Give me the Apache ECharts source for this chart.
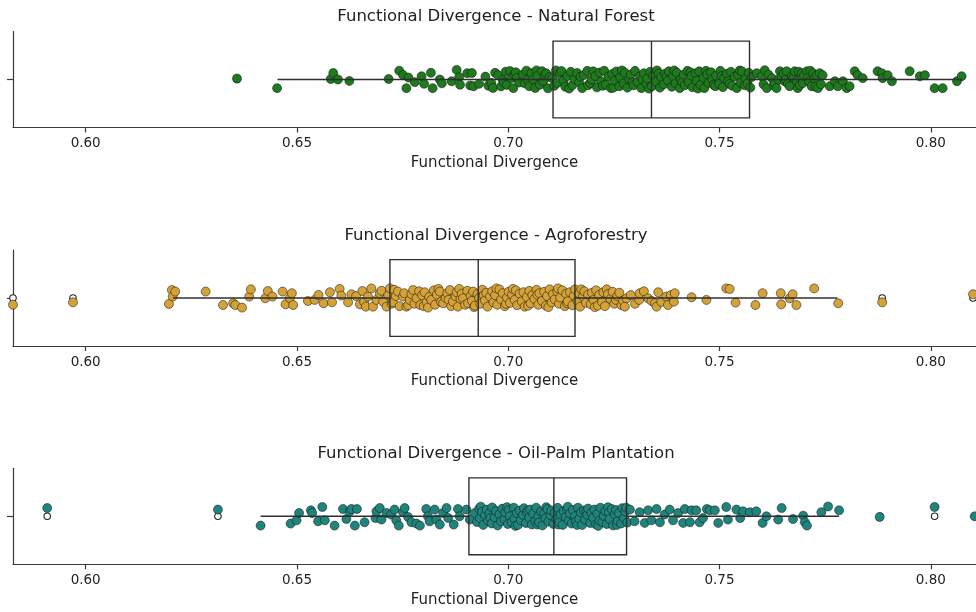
<!DOCTYPE html>
<html>
<head>
<meta charset="utf-8">
<script src="https://cdn.jsdelivr.net/npm/echarts@6/dist/echarts.min.js"></script>
<style>html,body{margin:0;padding:0;background:#fff}#chart{width:976px;height:612px}</style>
</head>
<body>
<div id="chart"></div>
<script>
// ---------------- data ----------------
const xTickValues = [0.60, 0.65, 0.70, 0.75, 0.80];
const axisTitle = 'Functional Divergence';
const panelTitles = [
  'Functional Divergence - Natural Forest',
  'Functional Divergence - Agroforestry',
  'Functional Divergence - Oil-Palm Plantation'
];

// box stats: [whisker low, Q1, median, Q3, whisker high]
const forestBox = [0.6454, 0.7106, 0.7339, 0.7571, 0.8075];
const agroBox   = [0.6207, 0.6720, 0.6929, 0.7158, 0.7779];
const palmBox   = [0.6414, 0.6907, 0.7108, 0.7280, 0.7783];

const forestOutliers = [0.6358];
const agroOutliers   = [0.5828, 0.5970, 0.7885, 0.8100];
const palmOutliers   = [0.5909, 0.6313, 0.7880, 0.8009, 0.8104];

// strip points: [functional divergence, jitter]
const forestPoints = [
[0.6358,0.01],[0.6453,-0.09],[0.6580,0.005],[0.6586,0.068],[0.6597,0.0],[0.6624,-0.015],[0.6717,0.005],[0.6742,0.092],[0.6751,0.048],[0.6759,-0.09],[0.6764,0.02],[0.6779,-0.028],[0.6795,0.034],[0.6801,-0.045],[0.6817,0.07],[0.6821,-0.09],[0.6838,0.0],[0.6843,-0.04],[0.6866,-0.018],[0.6878,0.1],[0.6884,0.025],[0.6886,-0.055],[0.6903,0.066],[0.6910,-0.062],[0.6914,0.068],[0.6918,-0.07],[0.6931,-0.045],[0.6946,0.03],[0.6953,-0.065],[0.6960,-0.035],[0.6964,-0.088],[0.6969,0.07],
[0.6976,0.045],[0.6983,-0.072],[0.6987,-0.004],[0.6990,-0.03],[0.6994,0.082],[0.6997,-0.056],[0.7004,0.088],[0.7007,0.012],[0.7012,-0.09],[0.7015,0.05],[0.7018,0.075],[0.7021,0.016],[0.7026,-0.032],[0.7035,0.052],[0.7039,-0.04],[0.7043,0.092],[0.7046,-0.005],[0.7050,-0.07],[0.7055,0.066],[0.7059,0.002],[0.7064,-0.088],[0.7067,0.095],[0.7069,0.036],[0.7075,-0.055],[0.7080,0.086],[0.7083,-0.018],[0.7087,0.045],[0.7090,0.064],[0.7094,-0.092],[0.7098,0.028],[0.7104,0.014],[0.7109,-0.066],[0.7113,0.095],[0.7116,-0.036],[0.7122,0.062],[0.7126,0.088],[0.7131,-0.01],[0.7135,-0.075],[0.7140,0.036],[0.7144,-0.095],[0.7148,0.08],[0.7152,-0.058],[0.7157,0.008],[0.7163,0.068],[0.7168,-0.03],[0.7171,0.03],[0.7175,-0.09],[0.7179,0.046],[0.7187,0.09],[0.7189,-0.06],[0.7194,-0.036],[0.7198,0.0],[0.7201,0.085],[0.7206,0.036],[0.7210,-0.082],[0.7216,0.072],[0.7220,-0.022],[0.7224,-0.065],[0.7227,0.092],[0.7231,-0.054],[0.7237,0.03],[0.7243,-0.09],[0.7246,0.058],[0.7249,-0.085],[0.7252,-0.012],[0.7256,0.084],[0.7263,-0.07],[0.7265,0.022],[0.7269,0.095],[0.7273,-0.042],[0.7276,0.07],[0.7282,-0.085],[0.7287,0.002],[0.7290,0.052],[0.7294,-0.03],[0.7297,-0.06],[0.7300,0.09],[0.7306,-0.025],[0.7312,0.035],[0.7315,-0.09],[0.7318,0.0],[0.7321,0.065],[0.7327,-0.046],[0.7329,0.012],[0.7333,-0.095],[0.7336,0.08],[0.7340,-0.07],[0.7343,0.04],[0.7350,-0.02],[0.7352,0.095],[0.7356,0.06],[0.7359,-0.085],[0.7362,0.026],[0.7368,-0.05],[0.7371,0.06],[0.7375,0.03],[0.7378,-0.01],[0.7380,0.085],[0.7387,-0.076],[0.7390,0.032],[0.7393,0.095],[0.7396,-0.04],[0.7399,0.07],[0.7406,-0.09],[0.7408,0.0],[0.7412,-0.025],[0.7415,0.05],[0.7418,-0.06],[0.7424,0.09],[0.7427,-0.03],[0.7431,0.075],[0.7434,0.04],[0.7436,-0.08],[0.7443,0.065],[0.7446,-0.015],[0.7449,-0.095],[0.7452,0.085],[0.7455,-0.055],[0.7462,0.02],[0.7464,-0.09],[0.7468,0.09],[0.7471,0.055],[0.7474,-0.035],[0.7480,0.075],[0.7483,0.005],[0.7486,-0.055],[0.7490,-0.07],[0.7492,0.04],[0.7499,-0.045],[0.7502,0.09],[0.7505,0.035],[0.7508,-0.08],[0.7511,0.015],[0.7518,0.06],[0.7520,-0.02],[0.7524,-0.045],[0.7527,0.08],[0.7530,-0.065],[0.7536,0.03],[0.7541,-0.09],[0.7544,0.05],[0.7548,0.095],[0.7550,-0.035],[0.7553,0.085],[0.7560,-0.06],[0.7562,0.01],[0.7566,-0.04],[0.7569,0.07],[0.7573,-0.085],[0.7576,0.025],
[0.7588,0.066],[0.7600,0.034],[0.7604,-0.05],[0.7607,0.097],[0.7612,-0.09],[0.7616,0.05],[0.7624,0.014],[0.7628,-0.06],[0.7631,-0.038],[0.7635,-0.09],[0.7640,0.0],[0.7643,0.086],[0.7647,0.034],[0.7652,0.065],[0.7654,-0.018],[0.7657,0.0],[0.7659,0.086],[0.7662,-0.045],[0.7666,-0.07],[0.7671,0.034],[0.7675,0.02],[0.7678,0.086],[0.7683,-0.018],[0.7685,-0.09],[0.7688,0.08],[0.7690,-0.06],[0.7695,0.066],[0.7697,-0.038],[0.7700,0.04],[0.7707,0.086],[0.7709,0.014],[0.7712,-0.02],[0.7715,0.09],[0.7718,-0.07],[0.7721,0.066],[0.7725,0.01],[0.7727,-0.075],[0.7730,0.045],[0.7733,-0.09],[0.7737,0.066],[0.7740,-0.05],[0.7744,0.045],[0.7761,-0.07],[0.7773,-0.018],[0.7780,-0.07],[0.7792,-0.018],[0.7801,-0.09],[0.7808,-0.07],[0.7820,0.086],[0.7827,0.045],[0.7839,0.014],[0.7874,0.086],[0.7884,0.066],[0.7886,0.014],[0.7898,0.045],[0.7908,-0.018],[0.7950,0.086],[0.7974,0.034],[0.7986,0.045],[0.8009,-0.09],[0.8028,-0.09],[0.8062,-0.018],[0.8073,0.034]
];

const agroPoints = [
[0.5828,-0.07],[0.5970,-0.045],[0.6197,-0.062],[0.6204,0.083],[0.6206,0.015],[0.6212,0.067],[0.6284,0.067],[0.6325,-0.073],[0.6349,-0.055],[0.6354,-0.073],[0.6370,-0.1],[0.6387,0.015],[0.6391,0.09],[0.6425,-0.003],[0.6431,0.073],[0.6442,0.015],[0.6466,0.067],[0.6473,-0.066],[0.6483,-0.003],[0.6488,0.05],[0.6491,-0.073],[0.6526,-0.031],[0.6542,-0.02],[0.6551,0.031],[0.6563,-0.055],[0.6578,0.06],[0.6583,-0.045],[0.6601,0.094],[0.6605,0.025],[0.6621,-0.045],[0.6629,0.039],[0.6640,0.02],[0.6649,-0.066],[0.6655,0.073],[0.6659,-0.04],[0.6663,-0.09],[0.6668,0.015],[0.6676,0.1],[0.6680,-0.09],[0.6688,-0.02],[0.6696,0.05],[0.6700,0.075],[0.6704,-0.038],[0.6712,-0.09],[0.6716,0.03],
[0.6720,0.1],[0.6724,-0.06],[0.6727,-0.045],[0.6730,0.085],[0.6734,0.02],[0.6739,0.067],[0.6743,-0.085],[0.6751,0.015],[0.6754,0.05],[0.6759,-0.09],[0.6763,-0.075],[0.6767,-0.02],[0.6771,0.04],[0.6775,0.083],[0.6778,-0.06],[0.6783,-0.003],[0.6789,0.07],[0.6792,-0.073],[0.6796,0.03],[0.6800,-0.085],[0.6802,0.06],[0.6807,-0.045],[0.6810,-0.1],[0.6813,0.01],[0.6818,-0.02],[0.6824,0.08],[0.6827,-0.07],[0.6831,0.035],[0.6835,0.095],[0.6838,0.067],[0.6841,-0.04],[0.6846,-0.055],[0.6852,0.0],[0.6856,0.05],[0.6859,-0.02],[0.6862,0.083],[0.6865,-0.085],[0.6869,-0.038],[0.6875,0.02],[0.6878,0.06],[0.6881,-0.09],[0.6884,0.095],[0.6887,-0.01],[0.6890,0.045],[0.6893,-0.003],[0.6898,-0.07],[0.6903,0.075],[0.6905,-0.055],[0.6911,0.025],[0.6914,-0.03],[0.6917,0.067],[0.6919,-0.095],[0.6921,-0.08],[0.6927,0.04],[0.6931,0.0],[0.6934,-0.06],[0.6939,0.085],[0.6942,0.03],[0.6945,-0.025],[0.6948,0.055],[0.6951,-0.09],[0.6957,0.015],[0.6962,0.07],[0.6965,-0.045],[0.6969,0.03],[0.6972,0.1],[0.6974,-0.07],[0.6979,0.09],[0.6983,-0.015],[0.6987,0.05],[0.6992,-0.085],[0.6995,-0.06],[0.6997,0.005],[0.7001,0.065],[0.7004,-0.05],[0.7009,0.035],[0.7011,0.095],[0.7015,-0.02],[0.7018,0.08],[0.7021,-0.075],[0.7027,0.045],[0.7032,-0.035],[0.7036,0.06],[0.7039,-0.09],[0.7044,0.01],[0.7047,-0.08],[0.7050,0.075],[0.7053,-0.055],[0.7057,0.03],[0.7062,-0.01],[0.7067,0.085],[0.7069,0.035],[0.7071,-0.07],[0.7074,0.05],[0.7080,-0.03],[0.7085,0.065],[0.7089,-0.08],[0.7092,0.02],[0.7095,-0.095],[0.7098,0.09],[0.7103,-0.045],[0.7106,0.04],[0.7110,-0.015],[0.7116,0.07],[0.7118,0.1],[0.7120,-0.06],[0.7123,0.005],[0.7128,0.08],[0.7134,-0.085],[0.7137,0.045],[0.7139,-0.055],[0.7141,-0.035],[0.7146,0.06],[0.7152,-0.075],[0.7155,0.025],[0.7158,0.09],[0.7164,-0.03],[0.7167,0.05],[0.7170,-0.09],[0.7173,0.09],[0.7177,0.015],[0.7180,0.07],[0.7184,-0.05],[0.7189,0.035],[0.7195,-0.065],[0.7198,0.055],[0.7202,-0.02],[0.7205,-0.095],[0.7208,0.08],[0.7212,-0.08],[0.7215,0.03],[0.7222,-0.04],[0.7225,0.06],[0.7229,-0.085],[0.7233,0.09],[0.7236,0.04],[0.7242,-0.01],[0.7247,0.065],[0.7251,-0.06],[0.7255,-0.02],[0.7258,0.02],[0.7263,0.055],[0.7268,-0.075],[0.7272,-0.03],[0.7276,-0.09],[0.7280,-0.003],
[0.7290,0.03],[0.7300,-0.06],[0.7310,-0.02],[0.7311,0.05],[0.7321,0.07],[0.7331,-0.003],[0.7339,-0.03],[0.7347,-0.055],[0.7351,-0.09],[0.7355,0.06],[0.7362,-0.04],[0.7374,0.015],[0.7378,-0.073],[0.7385,0.03],[0.7392,-0.038],[0.7394,0.05],[0.7434,0.008],[0.7469,-0.02],[0.7516,0.1],[0.7524,0.094],[0.7538,-0.048],[0.7585,-0.073],[0.7602,0.05],[0.7645,0.05],[0.7646,-0.066],[0.7666,-0.003],[0.7673,0.039],[0.7682,-0.073],[0.7724,0.1],[0.7781,-0.055],[0.7885,-0.045],[0.8100,0.039]
];

const palmPoints = [
[0.5909,0.086],[0.6313,0.07],[0.6414,-0.097],[0.6485,-0.076],[0.6499,-0.042],[0.6505,0.034],[0.6533,0.062],[0.6536,0.034],[0.6550,-0.052],[0.6560,0.097],[0.6566,-0.042],[0.6589,-0.097],[0.6609,0.076],[0.6617,-0.028],[0.6625,0.052],[0.6629,0.076],[0.6637,-0.097],[0.6642,0.076],[0.6660,-0.062],[0.6686,-0.018],[0.6688,0.052],[0.6696,0.086],[0.6700,-0.034],[0.6712,0.034],[0.6723,0.018],[0.6731,0.07],[0.6735,-0.042],[0.6741,-0.097],[0.6751,0.042],[0.6755,0.086],[0.6763,-0.007],[0.6771,-0.062],[0.6783,-0.076],[0.6791,-0.097],[0.6806,0.076],[0.6810,0.0],[0.6814,-0.052],[0.6826,0.07],[0.6830,-0.034],[0.6838,-0.086],[0.6846,0.034],[0.6854,0.086],[0.6858,-0.018],[0.6871,-0.086],[0.6881,0.076],[0.6885,0.0],[0.6901,0.07],[0.6909,-0.034],[0.6921,0.034],
[0.6926,-0.06],[0.6931,0.08],[0.6933,-0.02],[0.6935,0.1],[0.6938,0.045],[0.6941,-0.09],[0.6945,0.01],[0.6949,0.07],[0.6952,-0.045],[0.6956,0.03],[0.6958,-0.02],[0.6961,-0.075],[0.6962,0.092],[0.6968,-0.01],[0.6971,0.055],[0.6975,-0.095],[0.6979,0.02],[0.6983,-0.05],[0.6986,0.08],[0.6991,-0.03],[0.6993,0.04],[0.6997,0.095],[0.6999,-0.08],[0.7001,0.065],[0.7004,0.0],[0.7008,-0.06],[0.7013,0.09],[0.7015,-0.025],[0.7017,-0.1],[0.7020,0.035],[0.7023,-0.09],[0.7027,0.06],[0.7030,-0.04],[0.7035,0.015],[0.7037,0.085],[0.7042,-0.07],[0.7044,0.04],[0.7047,0.06],[0.7050,-0.015],[0.7052,0.07],[0.7056,-0.085],[0.7059,0.025],[0.7064,-0.05],[0.7066,0.09],[0.7069,-0.085],[0.7071,0.0],[0.7073,-0.065],[0.7078,0.05],[0.7081,-0.095],[0.7085,0.03],[0.7088,-0.02],[0.7090,0.095],[0.7093,0.075],[0.7095,-0.055],[0.7100,0.01],[0.7102,0.06],[0.7107,-0.08],[0.7110,0.04],[0.7114,-0.03],[0.7117,0.088],[0.7119,-0.085],[0.7121,-0.06],[0.7124,0.02],[0.7129,-0.09],[0.7131,0.055],[0.7136,-0.01],[0.7139,0.075],[0.7141,0.1],[0.7143,-0.045],[0.7146,0.03],[0.7150,-0.075],[0.7153,0.065],[0.7158,0.0],[0.7160,-0.055],[0.7163,-0.09],[0.7165,0.09],[0.7168,-0.025],[0.7172,0.04],[0.7175,-0.09],[0.7179,0.06],[0.7182,-0.035],[0.7185,0.055],[0.7187,0.015],[0.7189,0.08],[0.7194,-0.07],[0.7197,0.035],[0.7201,-0.015],[0.7204,0.07],[0.7208,-0.085],[0.7211,0.025],[0.7213,-0.1],[0.7216,-0.045],[0.7218,0.09],[0.7223,-0.06],[0.7226,0.005],[0.7230,0.055],[0.7233,-0.08],[0.7236,0.095],[0.7238,0.04],[0.7240,-0.03],[0.7245,0.075],[0.7248,-0.095],[0.7252,0.02],[0.7255,0.065],[0.7257,-0.09],[0.7259,-0.05],[0.7262,0.035],[0.7267,-0.075],[0.7270,0.085],[0.7274,-0.02],[0.7277,0.05],[0.7279,0.09],[0.7282,-0.065],
[0.7288,0.07],[0.7299,-0.052],[0.7311,0.042],[0.7323,-0.069],[0.7331,0.062],[0.7339,-0.042],[0.7351,0.076],[0.7359,-0.062],[0.7370,0.018],[0.7382,0.07],[0.7390,-0.042],[0.7402,0.034],[0.7414,-0.069],[0.7418,0.076],[0.7430,-0.062],[0.7434,0.062],[0.7445,0.062],[0.7453,-0.062],[0.7461,-0.018],[0.7470,0.076],[0.7477,0.062],[0.7489,0.062],[0.7497,-0.069],[0.7516,0.097],[0.7520,-0.034],[0.7540,0.07],[0.7549,-0.018],[0.7556,0.052],[0.7572,0.042],[0.7587,0.052],[0.7602,-0.069],[0.7611,0.0],[0.7639,-0.034],[0.7647,0.086],[0.7674,-0.028],[0.7698,0.007],[0.7702,-0.062],[0.7707,-0.097],[0.7741,0.042],[0.7757,0.102],[0.7783,0.062],[0.7879,-0.007],[0.8009,0.097],[0.8104,0.0]
];

const panels = [
  {box: forestBox, outliers: forestOutliers, points: forestPoints, color: '#1f7a1f'},
  {box: agroBox,   outliers: agroOutliers,   points: agroPoints,   color: '#d4a236'},
  {box: palmBox,   outliers: palmOutliers,   points: palmPoints,   color: '#1f857c'}
];

// ---------------- layout / style ----------------
const X_MIN = 0.5828, X_MAX = 0.8107;
const gridTops = [31.5, 250, 468.3];
const gridHeight = 96;
const titleYs = [16.7, 235.7, 454];
const FONT = '"DejaVu Sans", sans-serif';
const AXIS_COLOR = '#3a3a3a';
const TEXT_COLOR = '#222222';

const grids = [], xAxes = [], yAxes = [], series = [], graphics = [];

function boxRender(params, api) {
  const wl = api.value(0), q1 = api.value(1), med = api.value(2), q3 = api.value(3), wh = api.value(4);
  const top = api.coord([q1, 0.4])[1];
  const bot = api.coord([q1, -0.4])[1];
  const mid = api.coord([q1, 0])[1];
  const xwl = api.coord([wl, 0])[0], xq1 = api.coord([q1, 0])[0], xmed = api.coord([med, 0])[0];
  const xq3 = api.coord([q3, 0])[0], xwh = api.coord([wh, 0])[0];
  const st = {stroke: '#2e2e2e', lineWidth: 1.4, fill: null};
  return {
    type: 'group',
    children: [
      {type: 'rect', shape: {x: xq1, y: top, width: xq3 - xq1, height: bot - top}, style: {stroke: '#2e2e2e', lineWidth: 1.4, fill: 'rgba(0,0,0,0)'}},
      {type: 'line', shape: {x1: xmed, y1: top, x2: xmed, y2: bot}, style: st},
      {type: 'line', shape: {x1: xwl, y1: mid, x2: xq1, y2: mid}, style: st},
      {type: 'line', shape: {x1: xq3, y1: mid, x2: xwh, y2: mid}, style: st}
    ]
  };
}

panels.forEach((p, i) => {
  grids.push({left: 13, right: 0, top: gridTops[i], height: gridHeight, containLabel: false});
  xAxes.push({
    type: 'value', gridIndex: i, min: X_MIN, max: X_MAX,
    name: axisTitle, nameLocation: 'middle', nameGap: 28,
    nameTextStyle: {fontSize: 15, color: TEXT_COLOR, fontFamily: FONT},
    axisLine: {show: true, onZero: false, lineStyle: {color: AXIS_COLOR, width: 1.2}},
    axisTick: {show: true, length: 5, customValues: xTickValues, lineStyle: {color: AXIS_COLOR, width: 1.2}},
    axisLabel: {show: true, customValues: xTickValues, margin: 9, fontSize: 13.5, color: TEXT_COLOR, fontFamily: FONT,
      formatter: v => v.toFixed(2)},
    splitLine: {show: false}
  });
  yAxes.push({
    type: 'value', gridIndex: i, min: -0.5, max: 0.5,
    axisLine: {show: true, onZero: false, lineStyle: {color: AXIS_COLOR, width: 1.2}},
    axisTick: {show: true, length: 6, customValues: [0], lineStyle: {color: AXIS_COLOR, width: 1.2}},
    axisLabel: {show: false},
    splitLine: {show: false}
  });
  series.push({
    type: 'scatter', xAxisIndex: i, yAxisIndex: i, z: 2, silent: true,
    symbol: 'circle', symbolSize: 6.5,
    itemStyle: {color: '#ffffff', borderColor: '#222222', borderWidth: 1.1, opacity: 1},
    data: p.outliers.map(v => [v, 0])
  });
  series.push({
    type: 'scatter', xAxisIndex: i, yAxisIndex: i, z: 3, silent: true,
    symbol: 'circle', symbolSize: 9,
    itemStyle: {color: p.color, borderColor: 'rgba(20,20,20,0.75)', borderWidth: 0.7, opacity: 1},
    data: p.points.map(d => [d[0], d[1]])
  });
  series.push({
    type: 'custom', xAxisIndex: i, yAxisIndex: i, z: 4, silent: true,
    renderItem: boxRender,
    data: [p.box]
  });
  graphics.push({
    type: 'text', x: 496, y: titleYs[i], silent: true,
    style: {text: panelTitles[i], fill: TEXT_COLOR, font: '16.5px ' + FONT, align: 'center', verticalAlign: 'middle'}
  });
});

const chart = echarts.init(document.getElementById('chart'), null, {renderer: 'canvas'});
chart.setOption({
  animation: false,
  backgroundColor: '#ffffff',
  grid: grids,
  xAxis: xAxes,
  yAxis: yAxes,
  series: series,
  graphic: graphics
});
</script>
</body>
</html>
